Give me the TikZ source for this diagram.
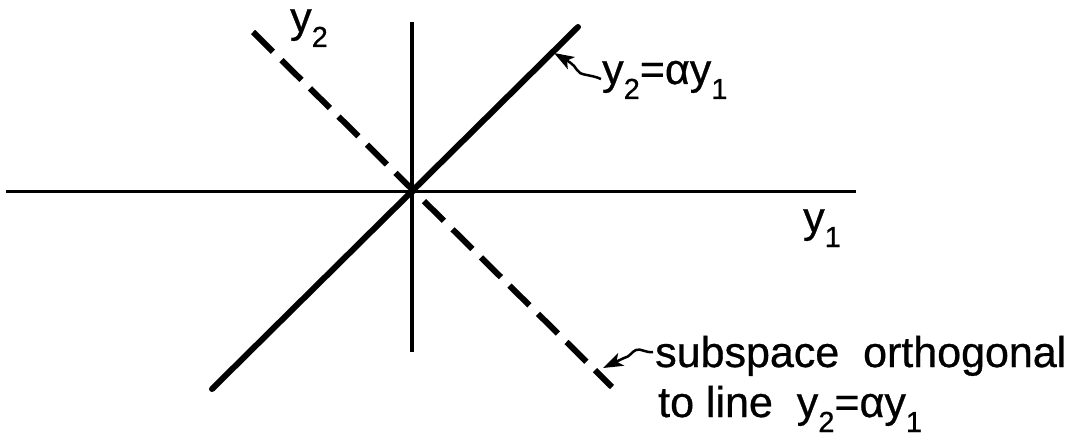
\documentclass[tikz,border=0pt]{standalone}
\usepackage{fontspec}
\setmainfont{Liberation Sans}
\newfontfamily\lettering[FakeBold=0.7]{Liberation Sans}
\usetikzlibrary{arrows.meta}
\newcommand{\lsub}[1]{\raisebox{-15pt}{\fontsize{29}{29}\selectfont #1}}
\begin{document}
\begin{tikzpicture}[x=1pt,y=-1pt,
  axis/.style={line width=3.5pt},
  solidline/.style={line width=6pt,line cap=round},
  dashline/.style={line width=6pt,dash pattern=on 28pt off 12.08pt},
  lbl/.style={font=\lettering\fontsize{43}{50}\selectfont, inner sep=0pt, anchor=base west},
  pointer/.style={line width=2.5pt,-{Stealth[length=20pt,width=14pt,inset=5pt]}}]
\useasboundingbox (0,0) rectangle (1075,441);
\coordinate (hL) at (6,191.5); \coordinate (hR) at (856,191.5);
\coordinate (vT) at (412,22); \coordinate (vB) at (412,352);
\coordinate (sA) at (212,389); \coordinate (sB) at (578,27);
\coordinate (dA) at (253,32); \coordinate (dB) at (612,387);
\draw[axis] (hL) -- (hR);
\draw[axis] (vT) -- (vB);
\draw[solidline] (sA) -- (sB);
\draw[dashline] (dA) -- (dB);
\node[lbl] (ytwo) at (290,32) {y\lsub{2}};
\node[lbl] (yone) at (803,232) {y\lsub{1}};
\node[lbl] (eq) at (602,84) {y\lsub{2}=αy\lsub{1}};
\node[lbl] (subA) at (655,367) {subspace\ \ orthogonal};
\node[lbl] (subB) at (658,417) {to line\ \ y\lsub{2}=αy\lsub{1}};
\coordinate (tailA) at (601,79);
\coordinate (tipA) at (554,53);
\draw[pointer] (tailA) .. controls (590,74) and (580,76) .. (577,70) .. controls (574,64) and (566,60) .. (tipA);
\coordinate (tailB) at (653,352);
\coordinate (tipB) at (603,368);
\draw[pointer] (tailB) .. controls (645,353) and (641,348) .. (636,350) .. controls (631,352) and (630,357) .. (624,358) -- (tipB);
\end{tikzpicture}
\end{document}
